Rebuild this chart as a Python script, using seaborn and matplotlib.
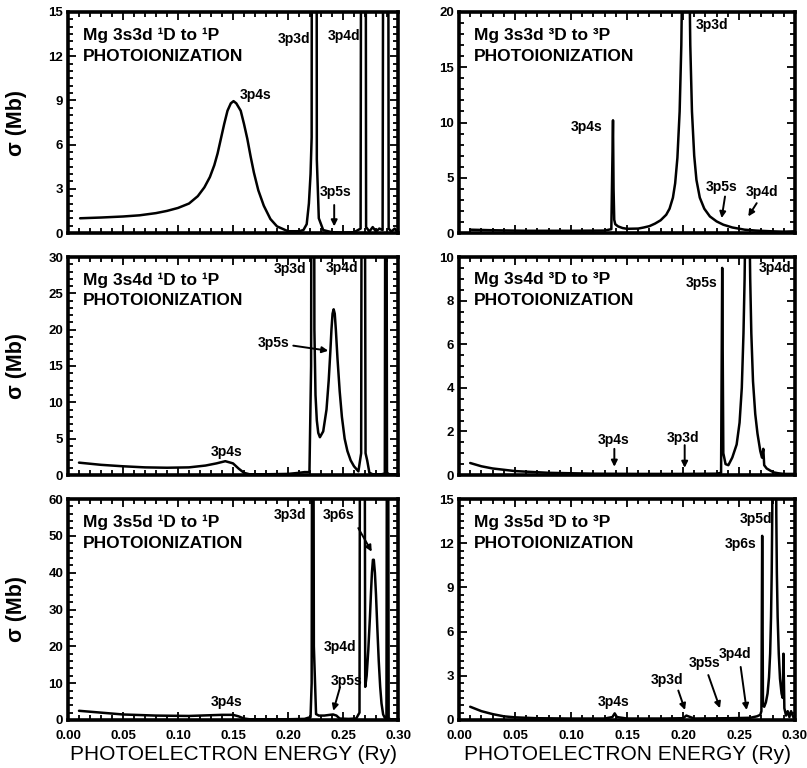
import numpy as np
import pandas as pd
import matplotlib
matplotlib.use("Agg")
import matplotlib.pyplot as plt
import seaborn as sns
from matplotlib.ticker import MultipleLocator, FormatStrFormatter

# ---------------- data ----------------
# Panel A: Mg 3s3d 1D -> 1P
a_x = [0.011, 0.030, 0.050, 0.065, 0.080, 0.090, 0.100, 0.110, 0.118, 0.124, 0.129, 0.133, 0.136,
       0.139, 0.142, 0.145, 0.148, 0.1505, 0.153, 0.157, 0.160, 0.163, 0.166, 0.169, 0.173,
       0.178, 0.184, 0.190, 0.200, 0.210, 0.214, 0.217, 0.219, 0.2205, 0.2215, 0.2225, 0.2252,
       0.2262, 0.228, 0.232, 0.240, 0.250, 0.260, 0.266, 0.2680, 0.2695, 0.2710, 0.274, 0.277,
       0.280, 0.283, 0.286, 0.2885, 0.2900, 0.2915, 0.294, 0.297, 0.299]
a_y = [1.0, 1.05, 1.12, 1.2, 1.35, 1.5, 1.7, 2.0, 2.5, 3.1, 3.8, 4.6, 5.4,
       6.4, 7.4, 8.3, 8.8, 8.95, 8.8, 8.3, 7.4, 6.4, 5.2, 4.1, 2.9,
       1.85, 0.95, 0.45, 0.12, 0.12, 0.2, 0.6, 2.0, 4.0, 6.5, 100, 100,
       5.0, 1.0, 0.2, 0.05, 0.03, 0.05, 0.3, 100, 100, 0.4, 0.1, 0.4,
       0.1, 0.3, 0.2, 100, 100, 0.3, 0.1, 0.3, 0.1]

# Panel B: Mg 3s3d 3D -> 3P
b_x = [0.010, 0.030, 0.060, 0.100, 0.130, 0.136, 0.1375, 0.1380, 0.1386, 0.1395, 0.142, 0.146,
       0.150, 0.160, 0.165, 0.170, 0.175, 0.180, 0.185, 0.188, 0.191, 0.193, 0.195, 0.197,
       0.1985, 0.1995, 0.2025, 0.2055, 0.2065, 0.2080, 0.2100, 0.2120, 0.2150, 0.2190, 0.2240,
       0.2300, 0.2360, 0.2440, 0.2550, 0.2650, 0.280, 0.290, 0.299]
b_y = [0.30, 0.25, 0.20, 0.20, 0.22, 0.35, 10.2, 4.0, 1.2, 0.8, 0.6, 0.45,
       0.38, 0.40, 0.5, 0.62, 0.85, 1.15, 1.65, 2.2, 3.2, 4.5, 6.8, 11,
       17, 25, 80, 25, 17, 11, 7, 4.8, 3.2, 2.2, 1.5,
       1.05, 0.75, 0.5, 0.3, 0.22, 0.15, 0.12, 0.15]

# Panel C: Mg 3s4d 1D -> 1P
c_x = [0.010, 0.030, 0.050, 0.070, 0.090, 0.110, 0.125, 0.135, 0.143, 0.150, 0.155, 0.160, 0.165,
       0.180, 0.200, 0.210, 0.215, 0.2195, 0.2210, 0.2218, 0.2232, 0.2240, 0.2250, 0.2262, 0.2275,
       0.2290, 0.2320, 0.2350, 0.2370, 0.2385, 0.2395, 0.2405, 0.2415, 0.2425, 0.2435, 0.2450,
       0.2470, 0.2490, 0.2515, 0.2540, 0.2570, 0.2600, 0.2640, 0.2665, 0.2675, 0.2690, 0.2705,
       0.2720, 0.2740, 0.2770, 0.2810, 0.2850, 0.2880, 0.2890, 0.2900, 0.2920, 0.2960, 0.2990]
c_y = [1.7, 1.4, 1.2, 1.05, 1.0, 1.05, 1.3, 1.6, 1.9, 1.6, 0.9, 0.3, 0.1,
       0.1, 0.15, 0.3, 0.4, 0.4, 15, 100, 100, 20, 11, 7.5, 5.8,
       5.2, 6.0, 9.0, 13, 17, 20, 22.2, 22.8, 22.2, 20, 16,
       11.5, 8.0, 5.0, 3.3, 2.0, 1.2, 0.5, 3, 100, 100, 3,
       2, 0.3, 0.1, 0.1, 0.1, 0.2, 100, 0.3, 0.1, 0.1, 0.1]

# Panel D: Mg 3s4d 3D -> 3P
d_x = [0.010, 0.020, 0.030, 0.050, 0.080, 0.120, 0.160, 0.200, 0.230, 0.2340, 0.2350, 0.2360,
       0.2380, 0.2405, 0.2440, 0.2479, 0.2505, 0.2525, 0.2540, 0.2550, 0.2555, 0.2575, 0.2595,
       0.2600, 0.2610, 0.2625, 0.2645, 0.2665, 0.2690, 0.2705, 0.2717, 0.2725, 0.2747, 0.2780,
       0.2810, 0.2850, 0.2900, 0.2990]
d_y = [0.55, 0.4, 0.3, 0.18, 0.1, 0.06, 0.05, 0.05, 0.06, 0.1, 9.5, 1.0,
       0.5, 0.45, 0.8, 1.4, 2.4, 4.0, 6.5, 9.0, 11, 40, 11,
       9.0, 6.5, 4.3, 2.8, 1.9, 1.1, 0.8, 1.2, 0.45, 0.3, 0.2,
       0.12, 0.08, 0.05, 0.05]

# Panel E: Mg 3s5d 1D -> 1P
e_x = [0.010, 0.030, 0.050, 0.080, 0.110, 0.130, 0.140, 0.150, 0.155, 0.160, 0.165, 0.180, 0.200,
       0.215, 0.2205, 0.2215, 0.2225, 0.2235, 0.2255, 0.2280, 0.2330, 0.2380, 0.2410, 0.2440,
       0.2470, 0.2550, 0.2620, 0.2650, 0.2660, 0.2690, 0.2702, 0.2715, 0.2730, 0.2745, 0.2755,
       0.2763, 0.2772, 0.2780, 0.2790, 0.2800, 0.2812, 0.2825, 0.2838, 0.2850, 0.2865, 0.2880,
       0.2895, 0.2905, 0.2915, 0.2930, 0.2960, 0.2990]
e_y = [2.5, 2.0, 1.5, 1.2, 1.1, 1.3, 1.4, 1.4, 1.0, 0.4, 0.2, 0.2, 0.2,
       0.3, 0.8, 10, 200, 20, 1.6, 1.2, 1.2, 1.4, 1.5, 1.2,
       0.4, 0.3, 0.4, 2, 200, 200, 9, 12, 19, 28, 35,
       40, 43.5, 43.5, 40, 34, 25, 16, 9, 4.5, 1.5, 0.6,
       0.5, 200, 0.5, 0.2, 0.2, 0.2]

# Panel F: Mg 3s5d 3D -> 3P
f_x = [0.010, 0.020, 0.030, 0.040, 0.050, 0.070, 0.100, 0.130, 0.137, 0.139, 0.141, 0.150, 0.180,
       0.200, 0.203, 0.210, 0.240, 0.260, 0.266, 0.269, 0.2700, 0.2707, 0.2714, 0.2725, 0.2740,
       0.2755, 0.2768, 0.2778, 0.2786, 0.2792, 0.2797, 0.2815, 0.2833, 0.2838, 0.2845, 0.2855,
       0.2866, 0.2880, 0.2890, 0.2897, 0.2905, 0.2920, 0.2935, 0.2950, 0.2965, 0.2990]
f_y = [0.9, 0.6, 0.4, 0.25, 0.18, 0.12, 0.1, 0.1, 0.2, 0.45, 0.2, 0.1, 0.1,
       0.12, 0.3, 0.1, 0.12, 0.15, 0.25, 0.35, 0.6, 12.5, 1.0, 0.9, 1.2,
       1.8, 2.9, 4.5, 7, 10, 14, 60, 14, 10, 7, 4.5,
       2.8, 1.8, 1.5, 4.5, 0.8, 0.3, 0.6, 0.2, 0.6, 0.1]

titles = ["Mg 3s3d \u00b9D to \u00b9P", "Mg 3s3d \u00b3D to \u00b3P",
          "Mg 3s4d \u00b9D to \u00b9P", "Mg 3s4d \u00b3D to \u00b3P",
          "Mg 3s5d \u00b9D to \u00b9P", "Mg 3s5d \u00b3D to \u00b3P"]
y_max = [15, 20, 30, 10, 60, 15]
y_major = [3, 5, 5, 2, 10, 3]
y_minor = [0.5, 1, 1, 0.5, 2, 0.5]
x_ticks = [0.00, 0.05, 0.10, 0.15, 0.20, 0.25, 0.30]

# resonance labels: (panel, text, x, y)
res_labels = [
    (0, "3p4s", 0.1705, 9.4), (0, "3p3d", 0.2054, 13.2), (0, "3p4d", 0.251, 13.4), (0, "3p5s", 0.2435, 2.8),
    (1, "3p4s", 0.114, 9.55), (1, "3p3d", 0.2256, 18.8), (1, "3p5s", 0.2345, 4.2), (1, "3p4d", 0.2702, 3.75),
    (2, "3p3d", 0.2018, 28.4), (2, "3p4d", 0.2488, 28.5), (2, "3p5s", 0.1866, 18.1), (2, "3p4s", 0.1443, 3.1),
    (3, "3p5s", 0.2167, 8.8), (3, "3p4d", 0.282, 9.5), (3, "3p4s", 0.1378, 1.6), (3, "3p3d", 0.2003, 1.7),
    (4, "3p3d", 0.2018, 55.7), (4, "3p6s", 0.2457, 55.7), (4, "3p4d", 0.2473, 19.8), (4, "3p5s", 0.2534, 10.5),
    (4, "3p4s", 0.1443, 4.8),
    (5, "3p5d", 0.2650, 13.65), (5, "3p6s", 0.2515, 11.95), (5, "3p4d", 0.2464, 4.5), (5, "3p5s", 0.2196, 3.85),
    (5, "3p3d", 0.1854, 2.7), (5, "3p4s", 0.1378, 1.24),
]
# arrows: (panel, x_from, y_from, x_to, y_to)
arrows = [
    (0, 0.2420, 1.9, 0.2420, 0.45),
    (1, 0.2375, 3.3, 0.2345, 1.35), (1, 0.2658, 2.7, 0.2583, 1.5),
    (2, 0.2048, 17.8, 0.2366, 17.1),
    (3, 0.1387, 1.2, 0.1387, 0.38), (3, 0.2015, 1.37, 0.2015, 0.33),
    (4, 0.2639, 52.1, 0.2761, 45.7), (4, 0.2473, 8.9, 0.2412, 2.5),
    (5, 0.2515, 3.6, 0.2568, 0.68), (5, 0.2226, 3.05, 0.2330, 0.8), (5, 0.1958, 2.0, 0.2018, 0.68),
]

curves = [(a_x, a_y), (b_x, b_y), (c_x, c_y), (d_x, d_y), (e_x, e_y), (f_x, f_y)]

# ---------------- style ----------------
sns.set_theme(style="ticks")
plt.rcParams["font.family"] = ["Liberation Sans", "DejaVu Sans"]
plt.rcParams["font.weight"] = "bold"
plt.rcParams["axes.labelweight"] = "bold"
plt.rcParams["text.color"] = "black"
plt.rcParams["axes.labelcolor"] = "black"
plt.rcParams["xtick.color"] = "black"
plt.rcParams["ytick.color"] = "black"
plt.rcParams["axes.edgecolor"] = "black"

W, H = 807, 768
fig = plt.figure(figsize=(W / 100, H / 100), dpi=100)

col_px = [(68, 398), (459, 795)]
row_px = [(12, 233), (257, 475), (499, 720)]

for i in range(6):
    r, c = divmod(i, 2)
    x0, x1 = col_px[c]
    y0, y1 = row_px[r]
    ax = fig.add_axes([x0 / W, 1 - y1 / H, (x1 - x0) / W, (y1 - y0) / H])
    cx, cy = curves[i]
    df = pd.DataFrame({"E": cx, "sigma": cy})
    sns.lineplot(data=df, x="E", y="sigma", ax=ax, color="black", lw=1.8,
                 estimator=None, sort=False)
    ax.set_xlim(0, 0.30)
    ax.set_ylim(0, y_max[i])
    ax.set_xticks(x_ticks)
    ax.xaxis.set_minor_locator(MultipleLocator(0.01))
    ax.yaxis.set_major_locator(MultipleLocator(y_major[i]))
    ax.yaxis.set_minor_locator(MultipleLocator(y_minor[i]))
    ax.xaxis.set_major_formatter(FormatStrFormatter("%.2f"))
    ax.tick_params(which="both", direction="in", top=True, right=True, width=1.3,
                   labelsize=9.5, colors="black", labelcolor="black")
    ax.tick_params(which="major", length=6)
    ax.tick_params(which="minor", length=3.5)
    ax.tick_params(axis="x", pad=7)
    for s in ax.spines.values():
        s.set_linewidth(2.6)
        s.set_color("black")
    if r < 2:
        ax.set_xticklabels([])
        ax.set_xlabel("")
    else:
        ax.set_xlabel("PHOTOELECTRON ENERGY (Ry)", fontsize=15, fontweight="normal",
                      color="black")
        ax.xaxis.set_label_coords(0.5, -0.115)
    if c == 0:
        ax.set_ylabel("\u03c3 (Mb)", fontsize=15.5, fontweight="bold", color="black")
        ax.yaxis.set_label_coords(-0.125, 0.5)
    else:
        ax.set_ylabel("")
    ax.text(0.045, 0.895, titles[i], transform=ax.transAxes, fontsize=12.5,
            fontweight="bold", ha="left", va="center", color="black")
    ax.text(0.045, 0.80, "PHOTOIONIZATION", transform=ax.transAxes, fontsize=12.5,
            fontweight="bold", ha="left", va="center", color="black")
    for (p, t, tx, ty) in res_labels:
        if p == i:
            ax.text(tx, ty, t, fontsize=10, fontweight="bold", ha="center", va="center",
                    color="black")
    for (p, xa, ya, xb, yb) in arrows:
        if p == i:
            ax.annotate("", xy=(xb, yb), xytext=(xa, ya),
                        arrowprops=dict(arrowstyle="-|>", color="black", lw=1.4,
                                        mutation_scale=9, shrinkA=0, shrinkB=0))

fig.savefig("out.png", dpi=100)
